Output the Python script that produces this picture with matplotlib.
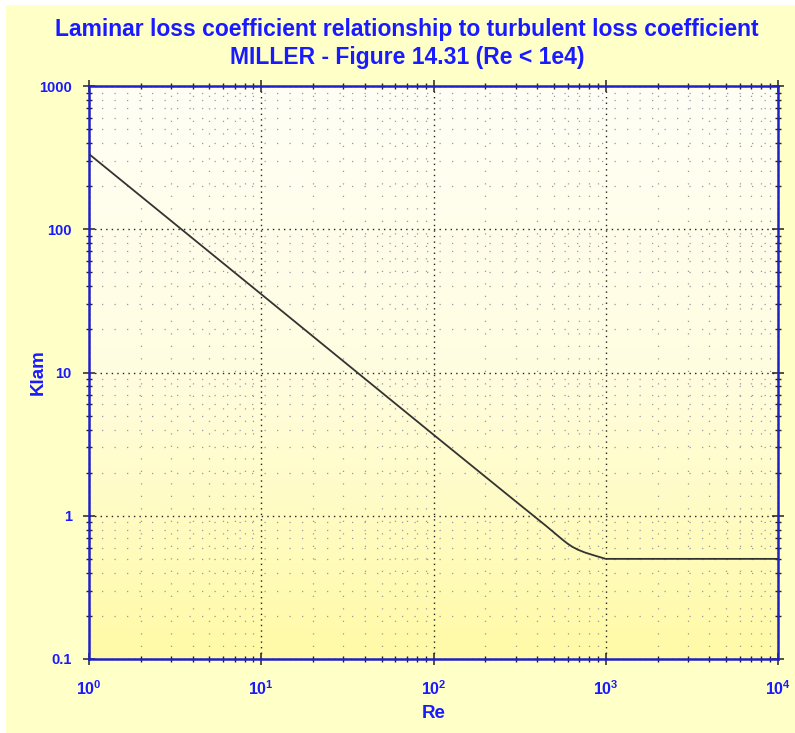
import numpy as np
import matplotlib.pyplot as plt
from matplotlib.patches import Rectangle
from matplotlib.colors import LinearSegmentedColormap
from matplotlib.ticker import LogLocator, FixedLocator, FixedFormatter, NullFormatter

# curve
re_vals = [1, 10, 100, 300, 450, 520, 560, 600, 640, 690, 760, 850, 1000, 10000]
klam_vals = [335, 35.2, 3.68, 1.26, 0.85, 0.735, 0.682, 0.639, 0.607, 0.579, 0.553, 0.530, 0.5, 0.5]

ytick_vals = [0.1, 1, 10, 100, 1000]
ytick_labels = ['0.1', '1', '10', '100', '1000']

title = 'Laminar loss coefficient relationship to turbulent loss coefficient\nMILLER - Figure 14.31 (Re < 1e4)'
blue = '#1a1aff'
spine_blue = '#2020c8'

plt.rcParams['font.family'] = ['Liberation Sans', 'DejaVu Sans']

fig = plt.figure(figsize=(7.95, 7.33), dpi=100, facecolor='white')
fig.patches.append(Rectangle((6 / 795, 0), 1, 1 - 5 / 733, transform=fig.transFigure,
                             facecolor='#ffffc8', edgecolor='none', zorder=-10))

ax = fig.add_axes([89 / 795, 1 - 659 / 733, 689 / 795, 573 / 733])
ax.set_xscale('log')
ax.set_yscale('log')
ax.set_xlim(1, 1e4)
ax.set_ylim(0.1, 1000)

# vertical gradient background
cmap = LinearSegmentedColormap.from_list('bg', ['#fffff6', '#fffde0', '#fffaa6'])
grad = np.linspace(0, 1, 256).reshape(-1, 1)
ax.imshow(grad, cmap=cmap, aspect='auto', extent=[0, 1, 0, 1], transform=ax.transAxes,
          zorder=-5, origin='upper')

ax.plot(re_vals, klam_vals, color='#333333', lw=1.3, zorder=3)

ax.yaxis.set_major_locator(FixedLocator(ytick_vals))
ax.yaxis.set_major_formatter(FixedFormatter(ytick_labels))
ax.yaxis.set_minor_locator(LogLocator(base=10, subs=np.arange(2, 10)))
ax.yaxis.set_minor_formatter(NullFormatter())
ax.xaxis.set_major_locator(LogLocator(base=10, numticks=10))
ax.xaxis.set_minor_locator(LogLocator(base=10, subs=np.arange(2, 10), numticks=10))
ax.xaxis.set_minor_formatter(NullFormatter())

ax.grid(which='major', color='#222222', linestyle=(0, (1, 3)), lw=1.0)
ax.grid(which='minor', color='#9a9a9a', linestyle=(0, (1, 9)), lw=0.9)

for s in ax.spines.values():
    s.set_color(spine_blue)
    s.set_linewidth(1.8)

ax.tick_params(which='major', direction='inout', length=9, width=1.1, color='#222222',
               labelcolor=blue, labelsize=10.5, top=True, right=True)
ax.tick_params(axis='x', which='major', pad=10, labelsize=11.5)
ax.tick_params(axis='y', which='major', pad=8)
ax.tick_params(which='minor', direction='inout', length=5, width=1.0, color='#222222',
               top=True, right=True)
for lab in ax.get_xticklabels() + ax.get_yticklabels():
    lab.set_fontweight('bold')

ax.set_xlabel('Re', color=blue, fontsize=13.5, fontweight='bold', labelpad=5)
ax.set_ylabel('Klam', color=blue, fontsize=13.5, fontweight='bold', labelpad=-6)

fig.text(407 / 795, 1 - 43.5 / 733, title, ha='center', va='center', color=blue,
         fontsize=16.5, fontweight='bold', linespacing=1.3)

fig.savefig('out.png', dpi=100, facecolor=fig.get_facecolor())
